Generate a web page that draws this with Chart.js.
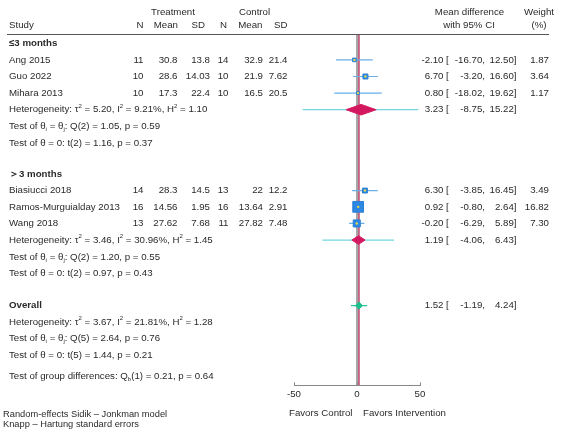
<!DOCTYPE html>
<html>
<head>
<meta charset="utf-8">
<script src="https://cdn.jsdelivr.net/npm/chart.js@4.4.0/dist/chart.umd.min.js"></script>
<style>
  body { margin: 0; background: #fff; }
  canvas { display: block; }
</style>
</head>
<body>
<canvas id="forest" width="566" height="433"></canvas>
<script>
// study level data
const studies = ["Ang 2015", "Guo 2022", "Mihara 2013", "Biasiucci 2018", "Ramos-Murguialday 2013", "Wang 2018"];
const trtN = [11, 10, 10, 14, 16, 13];
const trtMean = [30.8, 28.6, 17.3, 28.3, 14.56, 27.62];
const trtSD = [13.8, 14.03, 22.4, 14.5, 1.95, 7.68];
const ctlN = [14, 10, 10, 13, 16, 11];
const ctlMean = [32.9, 21.9, 16.5, 22, 13.64, 27.82];
const ctlSD = [21.4, 7.62, 20.5, 12.2, 2.91, 7.48];
const md = [-2.10, 6.70, 0.80, 6.30, 0.92, -0.20];
const ciLo = [-16.70, -3.20, -18.02, -3.85, -0.80, -6.29];
const ciHi = [12.50, 16.60, 19.62, 16.45, 2.64, 5.89];
const weight = [1.87, 3.64, 1.17, 3.49, 16.82, 7.30];

// pooled: subgroup 1, subgroup 2, overall
const groupNames = ["≤3 months", "＞3 months", "Overall"];
const poolMd = [3.23, 1.19, 1.52];
const poolLo = [-8.75, -4.06, -1.19];
const poolHi = [15.22, 6.43, 4.24];
const predLo = [-43.1, -27.5, -4.8];
const predHi = [48.4, 29.4, 8.2];
const tau2 = ["5.20", "3.46", "3.67"];
const i2 = ["9.21", "30.96", "21.81"];
const h2 = ["1.10", "1.45", "1.28"];
const qDf = [2, 2, 5];
const qVal = ["1.05", "1.20", "2.64"];
const qP = ["0.59", "0.55", "0.76"];
const tDf = [2, 2, 5];
const tVal = ["1.16", "0.97", "1.44"];
const tP = ["0.37", "0.43", "0.21"];
const qbDf = 1, qbVal = "0.21", qbP = "0.64";

// row layout (in line units)
const studyRows = [2, 3, 4, 9.87, 10.85, 11.85];
const headRows = [1, 8.87, 16.8];
const statRows = [[5, 6, 7], [12.85, 13.87, 14.88], [17.8, 18.8, 19.8]];
const poolRows = [5, 12.85, 16.8];
const qbRow = 21.05;
const yTop = 0.44, yBottom = 21.6;

const FONT = '"Liberation Sans", Arial, sans-serif';
const TXT = '#2a2a2a';
const FS = 9.7;

function rich(ctx, str, x, y, align, size, bold) {
  const items = str.split(/(\^\{[^}]*\}|_\{[^}]*\})/).filter(Boolean).map(p => {
    if (p.startsWith('^{')) return { t: p.slice(2, -1), s: size * 0.62, dy: -size * 0.38 };
    if (p.startsWith('_{')) return { t: p.slice(2, -1), s: size * 0.62, dy: size * 0.3 };
    return { t: p, s: size, dy: 0 };
  });
  let w = 0;
  items.forEach(it => {
    ctx.font = (bold ? 'bold ' : '') + it.s + 'px ' + FONT;
    it.w = ctx.measureText(it.t).width;
    w += it.w;
  });
  let cx = align === 'right' ? x - w : align === 'center' ? x - w / 2 : x;
  ctx.textAlign = 'left';
  ctx.textBaseline = 'middle';
  items.forEach(it => {
    ctx.font = (bold ? 'bold ' : '') + it.s + 'px ' + FONT;
    ctx.fillText(it.t, cx, y + it.dy);
    cx += it.w;
  });
}

const tablePlugin = {
  id: 'tablePlugin',
  afterDraw(chart) {
    const ctx = chart.ctx;
    const py = r => chart.scales.y.getPixelForValue(r);
    ctx.save();
    ctx.fillStyle = TXT;

    // header
    rich(ctx, "Treatment", 173, py(-0.84), 'center', FS);
    rich(ctx, "Control", 254.5, py(-0.84), 'center', FS);
    rich(ctx, "Mean difference", 469.5, py(-0.84), 'center', FS);
    rich(ctx, "Weight", 539, py(-0.84), 'center', FS);
    const h2y = py(-0.06);
    rich(ctx, "Study", 9, h2y, 'left', FS);
    rich(ctx, "N", 143.5, h2y, 'right', FS);
    rich(ctx, "Mean", 178, h2y, 'right', FS);
    rich(ctx, "SD", 205, h2y, 'right', FS);
    rich(ctx, "N", 227, h2y, 'right', FS);
    rich(ctx, "Mean", 262.5, h2y, 'right', FS);
    rich(ctx, "SD", 287.5, h2y, 'right', FS);
    rich(ctx, "with 95% CI", 469, h2y, 'center', FS);
    rich(ctx, "(%)", 539, h2y, 'center', FS);

    ctx.strokeStyle = '#555';
    ctx.lineWidth = 1;
    ctx.beginPath();
    ctx.moveTo(7, 34.5);
    ctx.lineTo(549, 34.5);
    ctx.stroke();

    // small inward ticks on the x axis
    const xs = chart.scales.x;
    ctx.strokeStyle = '#888';
    xs.ticks.forEach((t, i) => {
      const px = Math.round(xs.getPixelForTick(i)) + 0.5;
      ctx.beginPath();
      ctx.moveTo(px, xs.top);
      ctx.lineTo(px, xs.top - 3);
      ctx.stroke();
    });

    const effect = (m, lo, hi, y) => {
      rich(ctx, m.toFixed(2), 443.5, y, 'right', FS);
      rich(ctx, "[", 446, y, 'left', FS);
      rich(ctx, lo.toFixed(2) + ",", 485, y, 'right', FS);
      rich(ctx, hi.toFixed(2) + "]", 516.5, y, 'right', FS);
    };

    studies.forEach((s, i) => {
      const y = py(studyRows[i]);
      rich(ctx, s, 9, y, 'left', FS);
      rich(ctx, String(trtN[i]), 143.5, y, 'right', FS);
      rich(ctx, String(trtMean[i]), 177.5, y, 'right', FS);
      rich(ctx, String(trtSD[i]), 210, y, 'right', FS);
      rich(ctx, String(ctlN[i]), 228.5, y, 'right', FS);
      rich(ctx, String(ctlMean[i]), 263, y, 'right', FS);
      rich(ctx, String(ctlSD[i]), 287.5, y, 'right', FS);
      effect(md[i], ciLo[i], ciHi[i], y);
      rich(ctx, weight[i].toFixed(2), 549, y, 'right', FS);
    });

    groupNames.forEach((g, k) => {
      rich(ctx, g, 9, py(headRows[k]), 'left', FS, true);
      const r = statRows[k];
      rich(ctx, "Heterogeneity: τ^{2} = " + tau2[k] + ", I^{2} = " + i2[k] + "%, H^{2} = " + h2[k], 9, py(r[0]), 'left', FS);
      rich(ctx, "Test of θ_{i} = θ_{j}: Q(" + qDf[k] + ") = " + qVal[k] + ", p = " + qP[k], 9, py(r[1]), 'left', FS);
      rich(ctx, "Test of θ = 0: t(" + tDf[k] + ") = " + tVal[k] + ", p = " + tP[k], 9, py(r[2]), 'left', FS);
      effect(poolMd[k], poolLo[k], poolHi[k], py(poolRows[k]));
    });
    rich(ctx, "Test of group differences: Q_{b}(" + qbDf + ") = " + qbVal + ", p = " + qbP, 9, py(qbRow), 'left', FS);

    // footer
    rich(ctx, "Favors Control", 352.5, 413, 'right', FS);
    rich(ctx, "Favors Intervention", 363, 413, 'left', FS);
    rich(ctx, "Random-effects Sidik – Jonkman model", 3, 414, 'left', 9.3);
    rich(ctx, "Knapp – Hartung standard errors", 3, 424, 'left', 9.3);
    ctx.restore();
  }
};

const datasets = [];

// reference lines: no effect and overall effect
datasets.push({ type: 'line', data: [{ x: 0, y: yTop }, { x: 0, y: yBottom }],
  borderColor: '#9a9a9a', borderWidth: 1, pointRadius: 0, order: 9 });
datasets.push({ type: 'line', data: [{ x: poolMd[2], y: yTop }, { x: poolMd[2], y: yBottom }],
  borderColor: '#c0587c', borderWidth: 1, pointRadius: 0, order: 9 });

// study confidence intervals
studies.forEach((s, i) => {
  datasets.push({ type: 'line', data: [{ x: ciLo[i], y: studyRows[i] }, { x: ciHi[i], y: studyRows[i] }],
    borderColor: '#6aaee6', borderWidth: 1.2, pointRadius: 0, order: 6 });
});

// prediction intervals and pooled diamonds
const diamondH = [0.32, 0.26, 0.22];
const diamondCol = ['#d41860', '#d41860', '#1cbf8e'];
const predCol = ['#72d8de', '#72d8de', '#2cc2a0'];
poolMd.forEach((m, k) => {
  const r = poolRows[k];
  datasets.push({ type: 'line', data: [{ x: predLo[k], y: r }, { x: predHi[k], y: r }],
    borderColor: predCol[k], borderWidth: 1.2, pointRadius: 0, order: 6 });
  datasets.push({ type: 'line',
    data: [{ x: poolLo[k], y: r }, { x: m, y: r - diamondH[k] }, { x: poolHi[k], y: r }, { x: m, y: r + diamondH[k] }, { x: poolLo[k], y: r }],
    borderColor: diamondCol[k], backgroundColor: diamondCol[k], borderWidth: 1, fill: 'shape',
    pointRadius: 0, tension: 0, order: 3 });
});

// weighted squares and centre dots
datasets.push({ type: 'scatter', data: md.map((v, i) => ({ x: v, y: studyRows[i] })),
  pointStyle: 'rect', pointRadius: weight.map(w => 1.85 * Math.sqrt(w)),
  backgroundColor: '#2d88e4', borderColor: '#2a7fd6', borderWidth: 1, order: 2 });
datasets.push({ type: 'scatter', data: md.map((v, i) => ({ x: v, y: studyRows[i] })),
  pointRadius: 1.2, backgroundColor: '#e6d84c', borderWidth: 0, order: 1 });

new Chart(document.getElementById('forest'), {
  type: 'scatter',
  data: { datasets },
  options: {
    responsive: false,
    animation: false,
    events: [],
    layout: { padding: { left: 294, right: 146, top: 34, bottom: 27.7 } },
    plugins: { legend: { display: false }, tooltip: { enabled: false } },
    scales: {
      x: {
        type: 'linear', min: -50, max: 50,
        afterFit: s => { s.height = 20; },
        grid: { drawOnChartArea: false, drawTicks: false, color: '#888' },
        border: { color: '#888' },
        ticks: { stepSize: 50, maxRotation: 0, padding: 3, color: TXT, font: { size: FS, family: FONT } }
      },
      y: { type: 'linear', display: false, reverse: true, min: yTop, max: yBottom }
    }
  },
  plugins: [tablePlugin]
});
</script>
</body>
</html>
